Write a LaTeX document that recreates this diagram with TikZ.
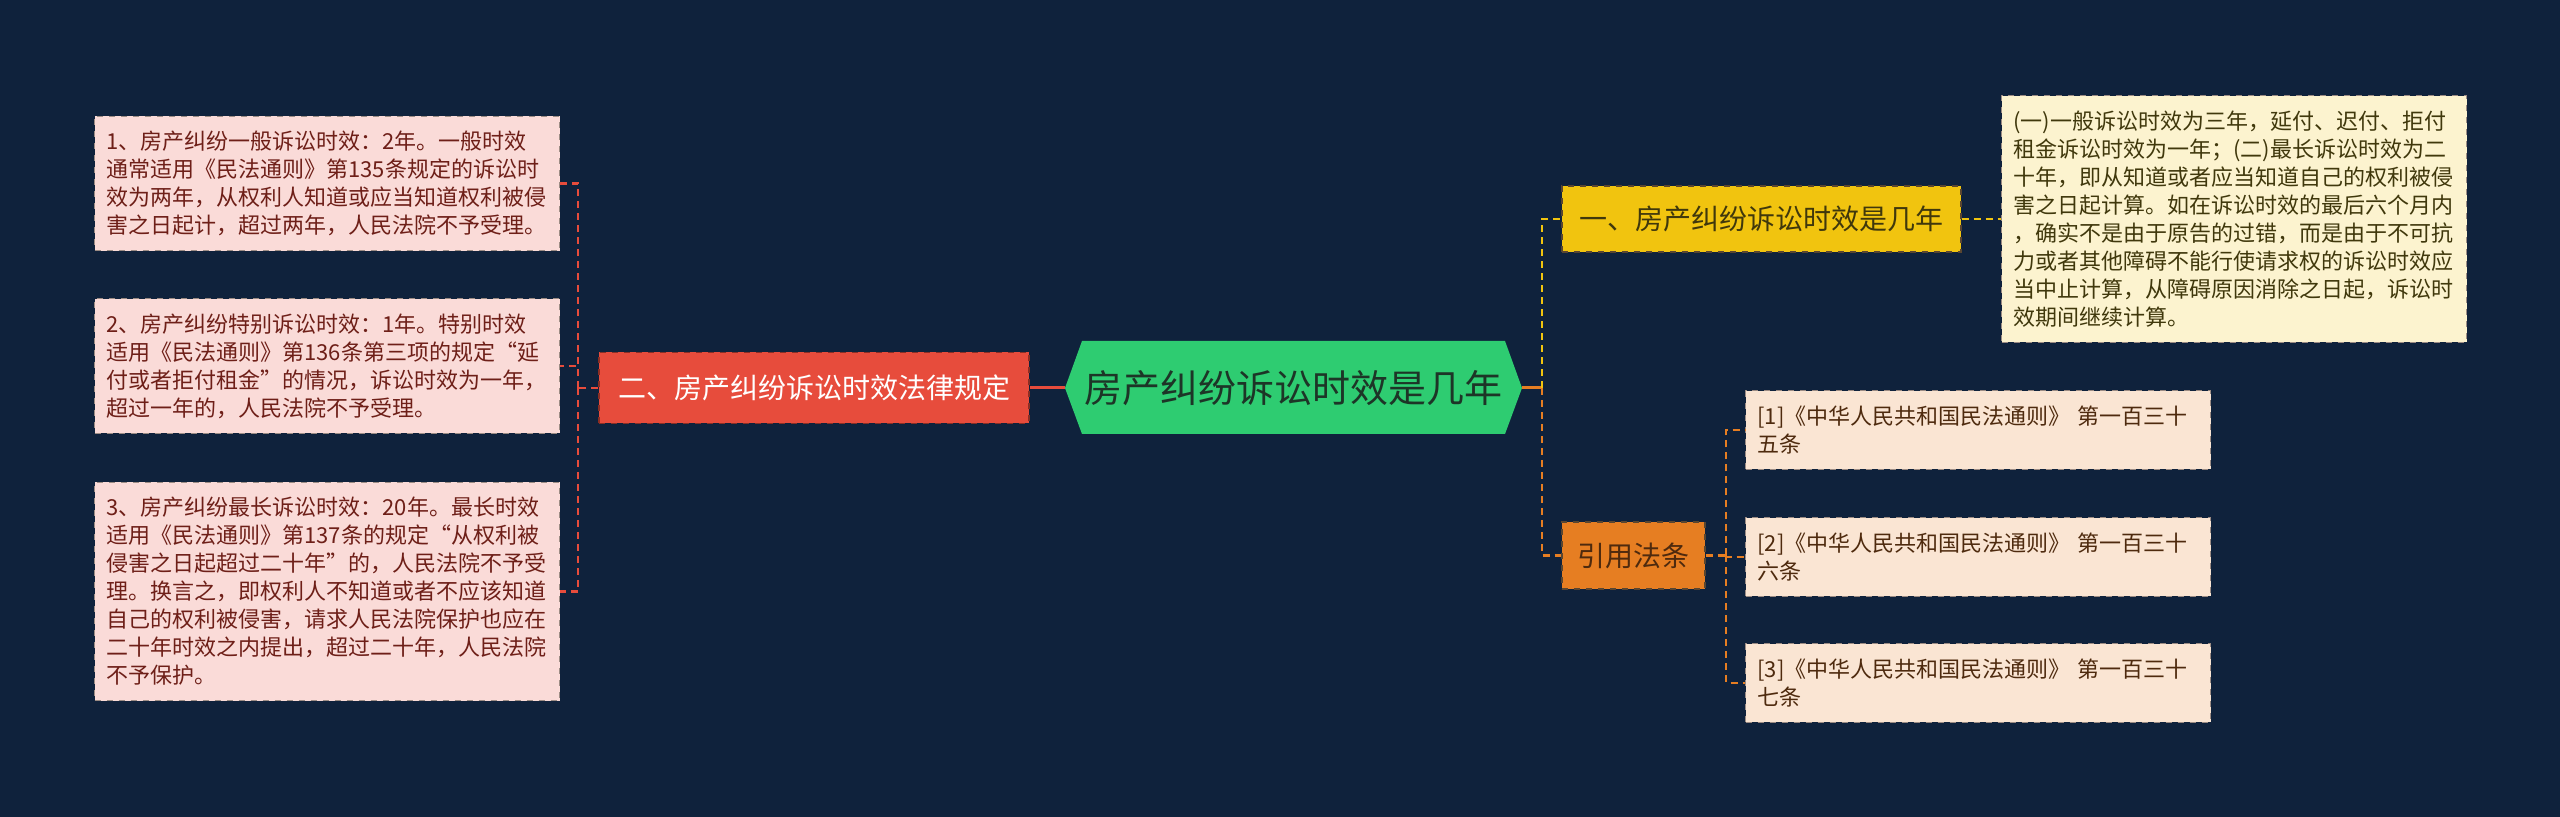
\documentclass[tikz,border=0pt]{standalone}
\usepackage{fontspec}
\setmainfont{Noto Sans CJK SC}
\usepackage{tikz}
\usetikzlibrary{
  positioning, calc,
}
\definecolor{bgNavy}    {HTML}{0F223C}
\definecolor{rootGreen} {HTML}{2ECC71}
\definecolor{rootInk}   {HTML}{1D3527}
\definecolor{secRed}    {HTML}{E74C3C}
\definecolor{secYellow} {HTML}{F1C40F}
\definecolor{secOrange} {HTML}{E67E22}
\definecolor{edgeDark}  {HTML}{5A4630}
\definecolor{leafPink}  {HTML}{FADBD8}
\definecolor{pinkInk}   {HTML}{6E1F18}
\definecolor{leafCream} {HTML}{FCF3CF}
\definecolor{creamInk}  {HTML}{40380C}
\definecolor{leafPeach} {HTML}{FAE5D3}
\definecolor{peachInk}  {HTML}{4E2A0E}
\definecolor{leafEdge}  {HTML}{9C8C84}

\begin{document}
\begin{tikzpicture}[x=0.5pt, y=-0.5pt,
    leaf/.style={rectangle, anchor=west, draw=leafEdge, dashed, line width=0.5pt,
      inner xsep=6pt, inner ysep=7.5pt, text width=220.5pt, align=left,
      font=\fontsize{11}{14}\selectfont},
    branch/.style={rectangle, draw=edgeDark, dashed, line width=0.6pt,
      inner sep=0pt, font=\fontsize{14}{16}\selectfont},
    link/.style={dash pattern=on 3.5pt off 2.5pt, line width=1.2pt},
  ]
  \fill[bgNavy] (0,0) rectangle (2560,817);

  % centre topic
  \fill[rootGreen] (1065,388) -- (1082,341) -- (1505,341) -- (1522,388)
    -- (1505,434) -- (1082,434) -- cycle;
  \node[minimum width=228.5pt, minimum height=46.5pt, inner sep=0pt,
        font=\fontsize{19}{22}\selectfont, text=rootInk]
    (root) at (1293.5,388) {房产纠纷诉讼时效是几年};

  % left branch
  \node[branch, fill=secRed, draw=secRed!60!black, text=white,
        minimum width=215pt, minimum height=35.5pt]
    (sec2) at (814,388) {二、房产纠纷诉讼时效法律规定};
  \node[leaf, fill=leafPink, text=pinkInk] (b1) at (94,183.5)
    {1、房产纠纷一般诉讼时效：2年。一般时效\\通常适用《民法通则》第135条规定的诉讼时\\效为两年，从权利人知道或应当知道权利被侵\\害之日起计，超过两年，人民法院不予受理。};
  \node[leaf, fill=leafPink, text=pinkInk] (b2) at (94,366)
    {2、房产纠纷特别诉讼时效：1年。特别时效\\适用《民法通则》第136条第三项的规定“延\\付或者拒付租金”的情况，诉讼时效为一年，\\超过一年的，人民法院不予受理。};
  \node[leaf, fill=leafPink, text=pinkInk] (b3) at (94,591.5)
    {3、房产纠纷最长诉讼时效：20年。最长时效\\适用《民法通则》第137条的规定“从权利被\\侵害之日起超过二十年”的，人民法院不予受\\理。换言之，即权利人不知道或者不应该知道\\自己的权利被侵害，请求人民法院保护也应在\\二十年时效之内提出，超过二十年，人民法院\\不予保护。};

  \draw[secRed, line width=1.5pt] (root.west) -- (sec2.east);
  \coordinate (lj) at (578,388);
  \draw[link, draw=secRed] (sec2.west) -- (lj);
  \foreach \b in {b1,b2,b3}
    \draw[link, draw=secRed] (lj) |- (\b.east);

  % right branches
  \node[branch, fill=secYellow, text=creamInk,
        minimum width=199.5pt, minimum height=33pt]
    (sec1) at (1761.5,219) {一、房产纠纷诉讼时效是几年};
  \node[leaf, fill=leafCream, text=creamInk] (rt) at (2001,219)
    {(一)一般诉讼时效为三年，延付、迟付、拒付\\租金诉讼时效为一年；(二)最长诉讼时效为二\\十年，即从知道或者应当知道自己的权利被侵\\害之日起计算。如在诉讼时效的最后六个月内\\，确实不是由于原告的过错，而是由于不可抗\\力或者其他障碍不能行使请求权的诉讼时效应\\当中止计算，从障碍原因消除之日起，诉讼时\\效期间继续计算。};
  \node[branch, fill=secOrange, text=peachInk,
        minimum width=71.5pt, minimum height=33.5pt]
    (refs) at (1633.5,555.5) {引用法条};

  \coordinate (rj) at (1542,388);
  \draw[secOrange, line width=1.5pt] (root.east) -- (rj);
  \draw[link, draw=secYellow] (rj) |- (sec1.west);
  \draw[link, draw=secOrange] (rj) |- (refs.west);
  \draw[link, draw=secYellow] (sec1.east) -- (rt.west);

  \coordinate (oj) at (1726,555.5);
  \draw[link, draw=secOrange] (refs.east) -- (oj);
  \foreach \i/\y/\cn in {1/430/五, 2/557/六, 3/683/七}{
    \node[leaf, fill=leafPeach, text=peachInk] (r\i) at (1745,\y)
      {[\i]《中华人民共和国民法通则》 第一百三十\\\cn 条};
    \draw[link, draw=secOrange] (oj) |- (r\i.west);
  }
\end{tikzpicture}
\end{document}
